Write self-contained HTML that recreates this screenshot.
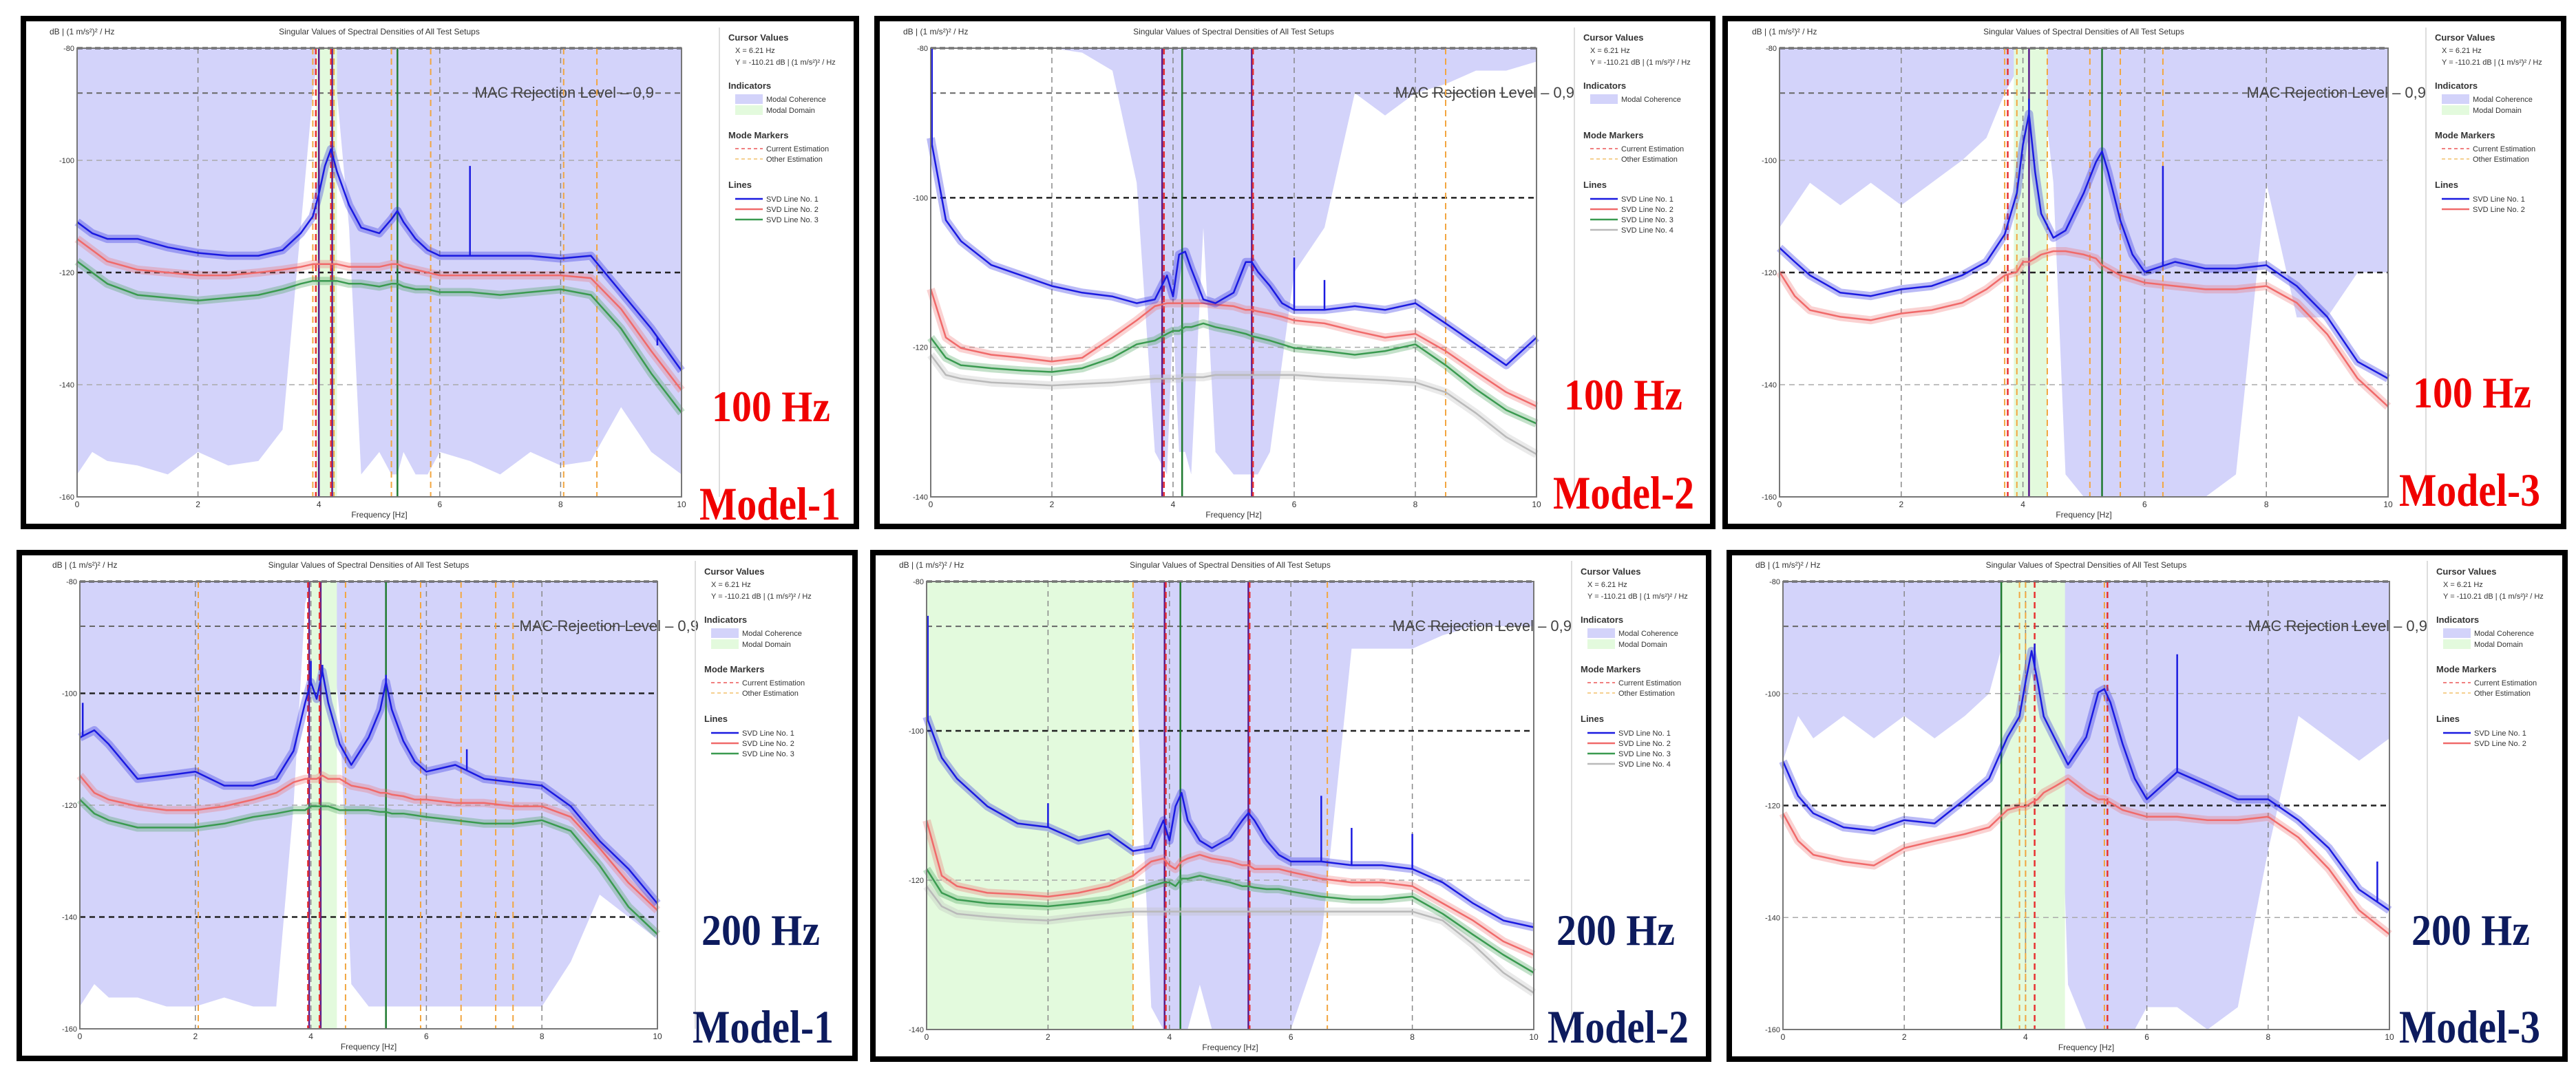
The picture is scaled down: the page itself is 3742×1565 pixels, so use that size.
<!DOCTYPE html>
<html><head><meta charset="utf-8"><title>SVD spectral density panels</title>
<style>html,body{margin:0;padding:0;background:#fff}svg{display:block}</style>
</head><body>
<svg id="fig" xmlns="http://www.w3.org/2000/svg" width="3742" height="1565" viewBox="0 0 3742 1565" font-family="'Liberation Sans', sans-serif">
<rect x="0" y="0" width="3742" height="1565" fill="#fff"/>
</svg>
<script>
// shared frequency grid (Hz)
const freqs=[0,0.25,0.5,1,1.5,2,2.5,3,3.4,3.7,3.9,4.0,4.1,4.2,4.3,4.5,4.7,5.0,5.2,5.3,5.4,5.6,5.8,6,6.5,7,7.5,8,8.5,9,9.5,10];
const xTicks=[0,2,4,6,8,10];
const yTicks4=[-80,-100,-120,-140,-160];
const yTicks3=[-80,-100,-120,-140];
// Panel 1: 100 Hz Model-1
const p1Blue=[-111,-113,-114,-114,-115.5,-116.5,-117,-117,-116,-113,-110,-106,-101,-98,-102,-108,-112,-113,-110.5,-109,-111,-114,-116,-117,-117,-117,-117,-117.5,-117,-123.5,-130,-137.5];
const p1Red=[-114,-116,-118,-119.5,-120,-120.5,-120.5,-120,-119.5,-119,-118.5,-118.5,-118.5,-118.5,-118.5,-119,-119,-119,-118.5,-118.5,-119,-119.5,-120,-120.5,-120.5,-120.5,-120.5,-120.5,-121,-126.5,-134,-141];
const p1Green=[-118,-120,-122,-124,-124.5,-125,-124.5,-124,-123,-122,-121.5,-121.5,-121.5,-121.5,-121.5,-122,-122,-122.5,-122,-122,-122.5,-123,-123,-123.5,-123.5,-124,-123.5,-123,-124,-130,-138,-145];
const p1Coh=[0.95,0.9,0.92,0.93,0.95,0.9,0.93,0.92,0.85,0.4,0.1,0,0,0,0.1,0.4,0.95,0.9,0.95,0.95,0.9,0.95,0.95,0.9,0.92,0.95,0.9,0.93,0.92,0.8,0.9,0.95];
const p1SpikeF=[6.5,9.6];
const p1SpikeV=[-101,-133];
// Panel 2: 100 Hz Model-2
const p2Blue=[-92,-103,-105.8,-109,-110.4,-111.8,-112.7,-113.2,-114.1,-113.6,-110.4,-113.2,-107.6,-107.2,-109.5,-113.6,-114.1,-112.7,-108.6,-108.6,-109.9,-111.8,-114.1,-115,-115,-114.5,-115,-114.1,-116.8,-119.6,-122.4,-118.7];
const p2Red=[-112.2,-118.7,-120.1,-121,-121.4,-121.9,-121.4,-118.7,-116.4,-114.5,-114.1,-114.1,-114.1,-114.1,-114.1,-114.1,-114.3,-114.5,-115,-115,-115.2,-115.5,-115.9,-116.4,-116.8,-117.8,-118.7,-118.2,-120.5,-123.3,-126,-127.9];
const p2Green=[-118.7,-121.4,-122.4,-122.8,-123.1,-123.3,-122.8,-121.4,-119.6,-119.1,-118.2,-117.8,-117.8,-117.3,-117.3,-116.8,-117.3,-117.8,-118.2,-118.5,-118.7,-119.1,-119.6,-120.1,-120.5,-121,-120.5,-119.6,-122.4,-125.6,-128.4,-130.2];
const p2Gray=[-121,-123.7,-124.2,-124.7,-124.9,-125.1,-124.9,-124.7,-124.4,-124.2,-124.2,-124.2,-124.2,-124,-124,-124,-123.7,-123.7,-123.7,-123.7,-123.7,-123.7,-123.7,-123.7,-124,-124.2,-124.4,-124.7,-126,-128.8,-132,-134.3];
const p2Coh=[0,0,0,0,0,0,0.01,0.05,0.3,0.9,0.95,0.6,0.9,0.9,0.95,0.4,0.9,0.95,0.95,0.95,0.95,0.9,0.7,0.5,0.4,0.1,0.15,0.1,0.08,0.05,0.05,0.03];
const p2SpikeF=[0.02,6.0,6.5];
const p2SpikeV=[-80,-108,-111];
// Panel 3: 100 Hz Model-3
const p3Blue=[-115.6,-118.1,-120.5,-123.6,-124.2,-123,-122.4,-120.5,-118.1,-113.2,-105.8,-97.2,-91.7,-102.1,-109.5,-113.8,-112.5,-105.8,-100.3,-98.4,-102.1,-110.7,-116.8,-119.9,-118.1,-119.3,-119.3,-118.7,-122.4,-127.9,-135.9,-138.9];
const p3Red=[-119.9,-124.2,-126.7,-127.9,-128.5,-127.3,-126.7,-125.4,-123,-120.5,-119.9,-118.1,-118.1,-117.5,-116.8,-116.2,-116.2,-116.8,-117.5,-118.7,-119.3,-120.5,-121.1,-121.8,-122.4,-123,-123,-122.4,-125.4,-131,-138.9,-143.9];
const p3Coh=[0.4,0.35,0.3,0.35,0.3,0.35,0.3,0.25,0.2,0.1,0.05,0.05,0.05,0.05,0.05,0.3,0.95,1,1,1,1,1,1,1,1,1,0.95,0.3,0.6,0.6,0.5,0.5];
const p3SpikeF=[4.1,6.3];
const p3SpikeV=[-89,-101];
// Panel 4: 200 Hz Model-1
const p4Blue=[-107.9,-106.6,-109.1,-115.3,-114.7,-114,-116.5,-116.5,-115.3,-110.3,-101.7,-98,-101,-96.1,-101.7,-109.1,-112.8,-107.9,-102.9,-98,-102.9,-108.5,-112.2,-114,-112.8,-115.3,-115.9,-116.5,-120.2,-126.4,-131.4,-137.6];
const p4Red=[-114.7,-117.8,-119,-120.2,-120.9,-120.9,-120.2,-119,-117.8,-115.9,-115.3,-115.3,-115.3,-114.7,-115.3,-115.3,-116.5,-117.1,-117.8,-117.8,-118.1,-118.4,-119,-119,-119.6,-119.6,-120.2,-120.2,-122.1,-127.7,-133.9,-138.8];
const p4Green=[-119,-121.5,-122.7,-124,-124,-124,-123.3,-122.1,-121.5,-120.9,-120.9,-120.2,-120.2,-120.2,-120.2,-120.9,-120.9,-120.9,-121.2,-121.2,-121.5,-121.5,-121.8,-122.1,-122.7,-123.3,-123.3,-122.7,-124.6,-130.8,-138.2,-143.1];
const p4Coh=[0.95,0.9,0.93,0.93,0.95,0.95,0.93,0.95,0.95,0.5,0.05,0,0,0,0.05,0.3,0.9,0.95,0.95,0.95,0.95,0.95,0.95,0.95,0.95,0.95,0.95,0.95,0.85,0.7,0.75,0.8];
const p4SpikeF=[0.05,4.0,4.2,5.3,6.7];
const p4SpikeV=[-101.7,-94.2,-94.9,-96.7,-110];
// Panel 5: 200 Hz Model-2
const p5Blue=[-98.1,-103.6,-106.4,-110.1,-112.4,-112.9,-114.7,-113.8,-116.1,-115.7,-112,-114.7,-110.1,-108.3,-112,-114.7,-115.7,-114.3,-112,-111,-112,-114.7,-116.6,-117.5,-117.5,-118,-118,-118.5,-120.3,-123.1,-125.4,-126.3];
const p5Red=[-112,-119.4,-120.8,-121.7,-121.9,-122.2,-121.7,-120.8,-119.4,-117.5,-117.1,-118,-118.5,-117.5,-117.1,-116.6,-117.1,-117.5,-118,-118,-118.5,-118.5,-118.5,-118.9,-119.8,-120.3,-120.3,-120.8,-123.1,-125.4,-128.2,-130];
const p5Green=[-118.5,-121.7,-122.6,-123.1,-123.3,-123.5,-123.1,-122.6,-121.7,-120.8,-120.3,-120.3,-120.8,-119.8,-119.8,-119.4,-119.8,-120.3,-120.8,-120.8,-121,-121.2,-121.2,-121.5,-122.2,-122.6,-122.6,-122.2,-124.5,-127.3,-130,-132.4];
const p5Gray=[-120.8,-123.5,-124.5,-124.9,-125.2,-125.4,-124.9,-124.5,-124.2,-124.2,-124.2,-124.2,-124.2,-124.2,-124.2,-124.2,-124.2,-124.2,-124.2,-124.2,-124.2,-124.2,-124.2,-124.2,-124.2,-124.2,-124.2,-124.2,-125.4,-128.6,-132.4,-135.1];
const p5Coh=[0,0,0,0,0,0,0.02,0.03,0.05,0.95,1,1,1,1,1,0.9,1,1,1,1,1,1,1,1,0.8,0.15,0.15,0.15,0.12,0.1,0.1,0.1];
const p5SpikeF=[0.02,2.0,6.5,7.0,8.0];
const p5SpikeV=[-84.6,-109.7,-108.7,-113,-113.8];
// Panel 6: 200 Hz Model-3
const p6Blue=[-112.1,-118.3,-121.4,-123.9,-124.5,-122.6,-123.2,-118.9,-115.2,-107.8,-104.1,-97.9,-92.4,-97.9,-104.1,-108.4,-112.7,-107.8,-99.8,-99.2,-101.6,-109,-115.2,-118.9,-114,-116.4,-118.9,-118.9,-122.6,-127.6,-135,-138.7];
const p6Red=[-121.4,-126.3,-128.8,-130,-130.7,-127.6,-126.3,-125.1,-123.9,-120.8,-120.2,-120.2,-119.5,-118.9,-117.7,-116.5,-115.2,-117.7,-118.9,-118.9,-119.5,-120.8,-121.4,-122,-122,-122.6,-122.6,-122,-125.7,-131.3,-138.7,-143];
const p6Coh=[0.4,0.3,0.35,0.3,0.35,0.3,0.35,0.3,0.25,0.1,0.1,0.1,0.1,0.1,0.1,0.1,0.9,1,1,1,1,1,1,0.95,0.95,1,0.95,0.6,0.3,0.35,0.4,0.35];
const p6SpikeF=[4.15,6.5,9.8];
const p6SpikeV=[-91.1,-93,-130];

const NS='http://www.w3.org/2000/svg';
const svg=document.getElementById('fig');
function el(tag,attrs,parent){const e=document.createElementNS(NS,tag);for(const k in attrs)e.setAttribute(k,attrs[k]);parent.appendChild(e);return e;}
const C={blue:'#1a1ae0',red:'#f06a6a',green:'#3a9a50',gray:'#b9b9b9'};
const panels=[
 {n:1,box:[34,27,1210,738],plot:[112,70,878,652],yT:yTicks4,dark:[-120],mac:-88,macOff:-40,series:[p1Blue,p1Red,p1Green],coh:p1Coh,band:[3.95,4.3],sf:p1SpikeF,sv:p1SpikeV,rate:'100 Hz',model:'Model-1',lc:'#f00000',hz:[1000,585],md:[982,728],
  redDash:[3.95,4.2],orange:[3.9,4.25,5.2,5.85,8.05,8.6],greenSolid:[5.3],purple:[4.0,4.22],domain:true},
 {n:2,box:[1274,27,1214,738],plot:[1352,70,880,652],yT:yTicks3,dark:[-100],mac:-86,macOff:55,series:[p2Blue,p2Red,p2Green,p2Gray],coh:p2Coh,band:null,sf:p2SpikeF,sv:p2SpikeV,rate:'100 Hz',model:'Model-2',lc:'#f00000',hz:[998,568],md:[982,712],
  redDash:[3.85,5.32],orange:[8.5],greenSolid:[4.15],purple:[3.82,5.3],domain:false},
 {n:3,box:[2506,27,1218,738],plot:[2585,70,884,652],yT:yTicks4,dark:[-120],mac:-88,macOff:55,series:[p3Blue,p3Red],coh:p3Coh,band:[3.85,4.4],sf:p3SpikeF,sv:p3SpikeV,rate:'100 Hz',model:'Model-3',lc:'#f00000',hz:[999,565],md:[979,708],
  redDash:[3.75],orange:[3.7,3.9,4.4,5.1,5.6,6.3],greenSolid:[5.3],purple:[4.1],domain:true},
 {n:4,box:[28,803,1214,735],plot:[116,845,839,650],yT:yTicks4,dark:[-100,-140],mac:-88,macOff:60,series:[p4Blue,p4Red,p4Green],coh:p4Coh,band:[4.0,4.45],sf:p4SpikeF,sv:p4SpikeV,rate:'200 Hz',model:'Model-1',lc:'#0d1b5e',hz:[991,570],md:[978,712],
  redDash:[3.95,4.15],orange:[2.05,4.6,5.9,6.6,7.2,7.5],greenSolid:[5.3],purple:[3.97,4.17],domain:true},
 {n:5,box:[1268,803,1214,736],plot:[1346,845,882,651],yT:yTicks3,dark:[-100],mac:-86,macOff:55,series:[p5Blue,p5Red,p5Green,p5Gray],coh:p5Coh,band:[0,3.4],sf:p5SpikeF,sv:p5SpikeV,rate:'200 Hz',model:'Model-2',lc:'#0d1b5e',hz:[993,570],md:[980,712],
  redDash:[3.94,5.32],orange:[3.4,6.6],greenSolid:[4.18],purple:[3.92,5.3],domain:true},
 {n:6,box:[2512,803,1214,736],plot:[2590,845,881,651],yT:yTicks4,dark:[-120],mac:-88,macOff:55,series:[p6Blue,p6Red],coh:p6Coh,band:[3.6,4.65],sf:p6SpikeF,sv:p6SpikeV,rate:'200 Hz',model:'Model-3',lc:'#0d1b5e',hz:[991,570],md:[973,712],
  redDash:[4.15,5.35],orange:[3.9,4.0,5.3],greenSolid:[3.6],purple:[],domain:true}
];
const sColors=[C.blue,C.red,C.green,C.gray];
function interp(arr,f){for(let i=0;i<freqs.length-1;i++){if(f>=freqs[i]&&f<=freqs[i+1]){const t=(f-freqs[i])/(freqs[i+1]-freqs[i]);return arr[i]+(arr[i+1]-arr[i])*t;}}return arr[arr.length-1];}

panels.forEach(p=>{
 const g=el('g',{},svg);
 
 
 const [px,py,pw,ph]=p.plot;
 const yMax=p.yT[0],yMin=p.yT[p.yT.length-1];
 const X=f=>px+f/10*pw;
 const Y=v=>py+(yMax-v)/(yMax-yMin)*ph;
 const frame=el('rect',{x:p.box[0],y:p.box[1],width:p.box[2],height:p.box[3],fill:'#fff',stroke:'#000','stroke-width':8},g);
 
 
 let pts=freqs.map((f,i)=>X(f)+','+(py+p.coh[i]*ph)).join(' ');
 pts+=' '+X(10)+','+py+' '+X(0)+','+py;
 const coh=el('polygon',{points:pts,fill:'#d3d3fa'},g);
 
 
 if(p.band){
  const b=el('rect',{x:X(p.band[0]),y:py,width:X(p.band[1])-X(p.band[0]),height:ph,fill:'#e3fadd'},g);
  
  
 }
 [2,4,6,8].forEach(f=>{
  const l=el('line',{x1:X(f),x2:X(f),y1:py,y2:py+ph,stroke:'#888','stroke-width':1.5,'stroke-dasharray':'8 6'},g);
  
  
 });
 p.yT.slice(1,-1).forEach(v=>{
  const dk=p.dark.indexOf(v)>=0;
  const l=el('line',{x1:px,x2:px+pw,y1:Y(v),y2:Y(v),stroke:dk?'#222':'#aaa','stroke-width':dk?2.5:1.5,'stroke-dasharray':'8 6'},g);
  
  
 });
 const top=el('line',{x1:px,x2:px+pw,y1:py,y2:py,stroke:'#222','stroke-width':3,'stroke-dasharray':'8 5'},g);
 
 
 const mac=el('line',{x1:px,x2:px+pw,y1:Y(p.mac),y2:Y(p.mac),stroke:'#666','stroke-width':2,'stroke-dasharray':'8 6'},g);
 
 
 const mt=el('text',{x:px+pw+p.macOff,y:Y(p.mac)+7,'text-anchor':'end','font-size':22,fill:'#444'},g);
 mt.textContent='MAC Rejection Level – 0,9';
 
 
 p.orange.forEach(f=>{
  const l=el('line',{x1:X(f),x2:X(f),y1:py,y2:py+ph,stroke:'#f2a640','stroke-width':2,'stroke-dasharray':'9 6'},g);
  
  
 });
 p.purple.forEach(f=>{
  const l=el('line',{x1:X(f),x2:X(f),y1:py,y2:py+ph,stroke:'#5a1a8a','stroke-width':2.5},g);
  
  
 });
 p.redDash.forEach(f=>{
  const l=el('line',{x1:X(f),x2:X(f),y1:py,y2:py+ph,stroke:'#e83030','stroke-width':2.5,'stroke-dasharray':'9 6'},g);
  
  
 });
 p.greenSolid.forEach(f=>{
  const l=el('line',{x1:X(f),x2:X(f),y1:py,y2:py+ph,stroke:'#1f7a2f','stroke-width':2.5},g);
  
  
 });
 for(let s=p.series.length-1;s>=0;s--){
  const arr=p.series[s];
  const d=freqs.map((f,i)=>X(f).toFixed(1)+','+Y(arr[i]).toFixed(1)).join(' ');
  const halo=el('polyline',{points:d,fill:'none',stroke:sColors[s],'stroke-width':12,'stroke-opacity':0.3,'stroke-linejoin':'round'},g);
  
  
  const ln=el('polyline',{points:d,fill:'none',stroke:sColors[s],'stroke-width':2.5,'stroke-linejoin':'round'},g);
  
  
 }
 p.sf.forEach((f,i)=>{
  const l=el('line',{x1:X(f),x2:X(f),y1:Y(interp(p.series[0],f)),y2:Y(p.sv[i]),stroke:C.blue,'stroke-width':2.5},g);
  
  
 });
 const pf=el('rect',{x:px,y:py,width:pw,height:ph,fill:'none',stroke:'#777','stroke-width':2},g);
 
 
 xTicks.forEach(t=>{
  const tx=el('text',{x:X(t),y:py+ph+15,'text-anchor':'middle','font-size':12,fill:'#333'},g);
  tx.textContent=t;
  
  
 });
 p.yT.forEach(v=>{
  const ty=el('text',{x:px-4,y:Y(v)+4,'text-anchor':'end','font-size':11,fill:'#333'},g);
  ty.textContent=v;
  
  
 });
 const xt=el('text',{x:px+pw/2,y:py+ph+30,'text-anchor':'middle','font-size':12,fill:'#333'},g);
 xt.textContent='Frequency [Hz]';
 
 
 const yt=el('text',{x:px-40,y:py-20,'font-size':12,fill:'#333'},g);
 yt.textContent='dB | (1 m/s²)² / Hz';
 
 
 const tt=el('text',{x:px+pw/2,y:py-20,'text-anchor':'middle','font-size':12,fill:'#333'},g);
 tt.textContent='Singular Values of Spectral Densities of All Test Setups';
 
 
 const lx=px+pw+68,by=p.box[1];
 const sep=el('line',{x1:px+pw+55,x2:px+pw+55,y1:py-30,y2:py+ph,stroke:'#ddd','stroke-width':2},g);
 
 
 const lg=el('g',{},g);
 
 
 const txt=(s,x,y,fs,w)=>{const t=el('text',{x:x,y:y,'font-size':fs,fill:'#333','font-weight':w||'normal'},lg);t.textContent=s;return t;};
 let t;
 t=txt('Cursor Values',lx,by+32,13,'bold');
 t=txt('X = 6.21 Hz',lx+10,by+50,11);
 t=txt('Y = -110.21 dB | (1 m/s²)² / Hz',lx+10,by+67,11);
 t=txt('Indicators',lx,by+102,13,'bold');
 const sw1=el('rect',{x:lx+10,y:by+110,width:40,height:14,fill:'#d3d3fa'},lg);
 t=txt('Modal Coherence',lx+55,by+121,11);
 if(p.domain){
  const sw2=el('rect',{x:lx+10,y:by+126,width:40,height:14,fill:'#e3fadd'},lg);
  t=txt('Modal Domain',lx+55,by+137,11);
 }
 t=txt('Mode Markers',lx,by+174,13,'bold');
 const m1=el('line',{x1:lx+10,x2:lx+50,y1:by+189,y2:by+189,stroke:'#f08080','stroke-width':2,'stroke-dasharray':'5 4'},lg);
 t=txt('Current Estimation',lx+55,by+193,11);
 const m2=el('line',{x1:lx+10,x2:lx+50,y1:by+204,y2:by+204,stroke:'#f5d090','stroke-width':2,'stroke-dasharray':'5 4'},lg);
 t=txt('Other Estimation',lx+55,by+208,11);
 t=txt('Lines',lx,by+246,13,'bold');
 p.series.forEach((s,i)=>{
  const yy=by+262+i*15;
  const ll=el('line',{x1:lx+10,x2:lx+50,y1:yy,y2:yy,stroke:sColors[i],'stroke-width':2.5},lg);
  
  
  const lt=txt('SVD Line No. '+(i+1),lx+55,yy+4,11);
  
  
 });
 const hz=el('text',{x:p.box[0]+p.hz[0],y:p.box[1]+p.hz[1],'font-size':64,'font-weight':'bold',fill:p.lc,style:'font-family:"Liberation Serif",serif',textLength:172,lengthAdjust:'spacingAndGlyphs'},g);
 hz.textContent=p.rate;
 
 
 const md=el('text',{x:p.box[0]+p.md[0],y:p.box[1]+p.md[1],'font-size':68,'font-weight':'bold',fill:p.lc,style:'font-family:"Liberation Serif",serif',textLength:205,lengthAdjust:'spacingAndGlyphs'},g);
 md.textContent=p.model;
 
 
});
</script>
</body></html>
